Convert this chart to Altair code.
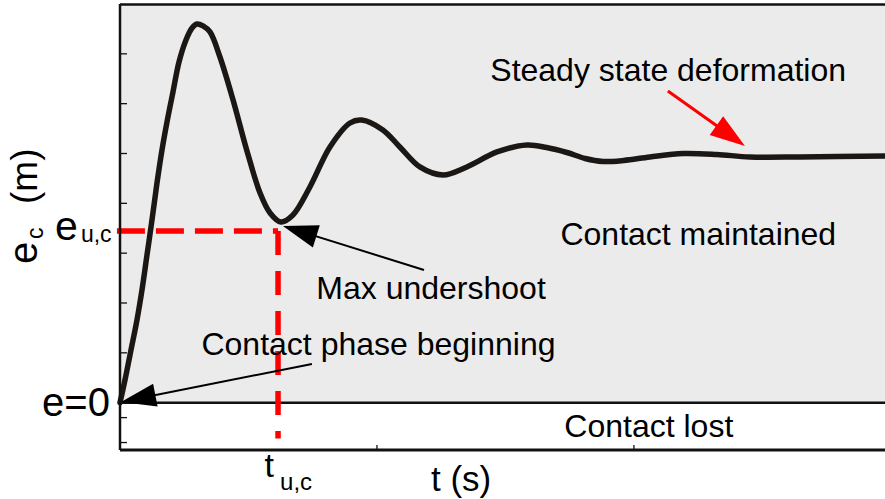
import math
import altair as alt
import pandas as pd

FONT = "Liberation Sans"

# Contact deformation response e_c(t) after impact
t_values = [0.0, 0.0195, 0.0428, 0.0661, 0.0856, 0.1051, 0.1245, 0.1440, 0.1634,
            0.1829, 0.2062, 0.2296, 0.2568, 0.2802, 0.2996, 0.3230, 0.3502, 0.389,
            0.440, 0.493, 0.545, 0.584, 0.626, 0.673, 0.739, 0.817, 0.895, 0.940,
            1.023, 1.089, 1.167, 1.257, 1.350, 1.467, 1.584, 1.660, 1.739, 1.810,
            1.879, 1.960, 2.062, 2.191, 2.323, 2.451, 2.646, 2.977]
e_values = [0.0, 0.456, 1.058, 1.660, 2.262, 2.964, 3.666, 4.409, 5.071,
            5.633, 6.235, 6.837, 7.279, 7.520, 7.600, 7.560, 7.439, 6.937,
            6.074, 5.071, 4.208, 3.807, 3.626, 3.766, 4.328, 5.131, 5.613, 5.673,
            5.473, 5.131, 4.730, 4.569, 4.730, 5.031, 5.172, 5.120, 5.020, 4.900,
            4.840, 4.860, 4.930, 5.000, 4.980, 4.930, 4.930, 4.950]

# axis extents and tick positions
T_MAX = 2.977
E_MIN, E_MAX = -0.95, 8.0
e_ticks = [-0.8, -0.3, 1, 2, 3, 4, 5, 6, 7]
t_ticks = [1, 2]

# maximum undershoot guides
t_uc = 0.615
e_uc = 3.445
guide_bottom = -0.72

# annotation arrows (start -> tip)
arrow_t0 = [2.132, 1.183, 0.747]
arrow_e0 = [6.255, 2.663, 0.777]
arrow_t1 = [2.432, 0.634, 0.004]
arrow_e1 = [5.152, 3.546, 0.014]
arrow_color = ["#ff0000", "#000000", "#000000"]
arrow_width = [3, 2, 2]

# in-plot notes
note_text = ["Steady state deformation", "Contact maintained", "Max undershoot",
             "Contact phase beginning", "Contact lost"]
note_t = [1.441, 1.714, 0.764, 0.317, 1.729]
note_e = [6.455, 3.165, 2.081, 0.957, -0.687]

# axis-side labels
label_text = ["e", "u,c", "t", "u,c", "t (s)"]
label_t = [-0.253, -0.152, 0.562, 0.623, 1.210]
label_e = [3.265, 3.225, -1.487, -1.750, -1.770]
label_size = [41, 23, 34, 24, 35]

W, H = 765, 446
PX_PER_T = W / T_MAX
PX_PER_E = H / (E_MAX - E_MIN)

xs = alt.Scale(domain=[0, T_MAX], nice=False, zero=False)
ys = alt.Scale(domain=[E_MIN, E_MAX], nice=False, zero=False)


def X(field):
    return alt.X(f"{field}:Q", scale=xs, axis=None)


def Y(field):
    return alt.Y(f"{field}:Q", scale=ys, axis=None)


one = pd.DataFrame({"k": [0]})

# shaded region where contact is maintained (e >= 0)
region = alt.Chart(pd.DataFrame({"t0": [0], "t1": [T_MAX], "e0": [0], "e1": [E_MAX]})).mark_rect(
    color="#ebebeb").encode(x=X("t0"), x2="t1", y=Y("e0"), y2="e1")

zero_line = alt.Chart(pd.DataFrame({"e": [0]})).mark_rule(color="#111111", strokeWidth=2.5).encode(
    y=Y("e"))

y_tick_marks = alt.Chart(pd.DataFrame({"e": e_ticks})).mark_rule(color="#111111", strokeWidth=1.3).encode(
    y=Y("e"), x=alt.value(0), x2=alt.value(7))
x_tick_marks = alt.Chart(pd.DataFrame({"t": t_ticks})).mark_rule(color="#111111", strokeWidth=1.3).encode(
    x=X("t"), y=alt.value(H), y2=alt.value(H - 5))

left_border = alt.Chart(one).mark_rule(color="#111111", strokeWidth=2.5).encode(
    x=alt.value(0), y=alt.value(0), y2=alt.value(H))
top_border = alt.Chart(one).mark_rule(color="#111111", strokeWidth=2.5).encode(
    y=alt.value(0.5), x=alt.value(0), x2=alt.value(W))
bottom_border = alt.Chart(one).mark_rule(color="#111111", strokeWidth=3).encode(
    y=alt.value(H), x=alt.value(0), x2=alt.value(W))

guide_h = alt.Chart(pd.DataFrame({"t0": [-0.012], "t1": [t_uc], "e": [e_uc]})).mark_rule(
    color="#ff0000", strokeWidth=5.5, strokeDash=[28, 11]).encode(x=X("t0"), x2="t1", y=Y("e"))
guide_v = alt.Chart(pd.DataFrame({"t": [t_uc], "e0": [e_uc], "e1": [guide_bottom]})).mark_rule(
    color="#ff0000", strokeWidth=5.5, strokeDash=[24, 16]).encode(x=X("t"), y=Y("e0"), y2="e1")

curve = alt.Chart(pd.DataFrame({"t": t_values, "e": e_values})).mark_line(
    color="#1b1714", strokeWidth=5.5, interpolate="catmull-rom", strokeCap="round",
    strokeJoin="round").encode(x=X("t"), y=Y("e"))

# arrow geometry: shaft stops inside the head, head rotated along the shaft
rows = []
for t0, e0, t1, e1, c, w in zip(arrow_t0, arrow_e0, arrow_t1, arrow_e1, arrow_color, arrow_width):
    dx = (t1 - t0) * PX_PER_T
    dy = -(e1 - e0) * PX_PER_E
    length = math.hypot(dx, dy)
    frac = 1 - 20 / length
    rows.append({"t0": t0, "e0": e0, "t1": t1, "e1": e1,
                 "ts": t0 + (t1 - t0) * frac, "es": e0 + (e1 - e0) * frac,
                 "angle": math.degrees(math.atan2(dy, dx)) % 360, "color": c, "w": w})
arrows = pd.DataFrame(rows)

shafts = alt.Chart(arrows).mark_rule().encode(
    x=X("t0"), y=Y("e0"), x2="ts", y2="es",
    color=alt.Color("color:N", scale=None), strokeWidth=alt.StrokeWidth("w:Q", scale=None))
heads = alt.Chart(arrows).mark_point(
    shape="M0,0L-2,-0.66L-2,0.66Z", filled=True, size=1225, opacity=1, strokeWidth=0).encode(
    x=X("t1"), y=Y("e1"), angle=alt.Angle("angle:Q", scale=None),
    color=alt.Color("color:N", scale=None))

notes = alt.Chart(pd.DataFrame({"t": note_t, "e": note_e, "txt": note_text})).mark_text(
    font=FONT, fontSize=32, align="left", baseline="alphabetic", color="#000000").encode(
    x=X("t"), y=Y("e"), text="txt:N")

labels = alt.Chart(pd.DataFrame({"t": label_t, "e": label_e, "txt": label_text, "s": label_size})).mark_text(
    font=FONT, align="left", baseline="alphabetic", color="#000000").encode(
    x=X("t"), y=Y("e"), text="txt:N", size=alt.Size("s:Q", scale=None))

zero_label = alt.Chart(pd.DataFrame({"t": [-0.039], "e": [-0.267], "txt": ["e=0"]})).mark_text(
    font=FONT, fontSize=40, align="right", baseline="alphabetic", color="#000000").encode(
    x=X("t"), y=Y("e"), text="txt:N")

# rotated y title: e_c (m)
title_e = alt.Chart(one).mark_text(text="e", font=FONT, fontSize=40, angle=270, align="left",
                                   baseline="alphabetic", color="#000000").encode(
    x=alt.value(-83), y=alt.value(260))
title_c = alt.Chart(one).mark_text(text="c", font=FONT, fontSize=23, angle=270, align="left",
                                   baseline="alphabetic", color="#000000").encode(
    x=alt.value(-77), y=alt.value(235))
title_m = alt.Chart(one).mark_text(text="(m)", font=FONT, fontSize=37, angle=270, align="left",
                                   baseline="alphabetic", color="#000000").encode(
    x=alt.value(-83), y=alt.value(200))

chart = alt.layer(
    region, zero_line, y_tick_marks, x_tick_marks, guide_h, guide_v, curve,
    shafts, heads, notes, labels, zero_label, title_e, title_c, title_m,
    left_border, top_border, bottom_border,
).properties(
    width=W, height=H,
    padding={"left": 120, "top": 4, "right": 0, "bottom": 49},
    autosize=alt.AutoSizeParams(type="none"),
    background="#ffffff",
).configure_view(stroke=None)

chart.save("out.html", embed_options={"renderer": "svg", "actions": False})
